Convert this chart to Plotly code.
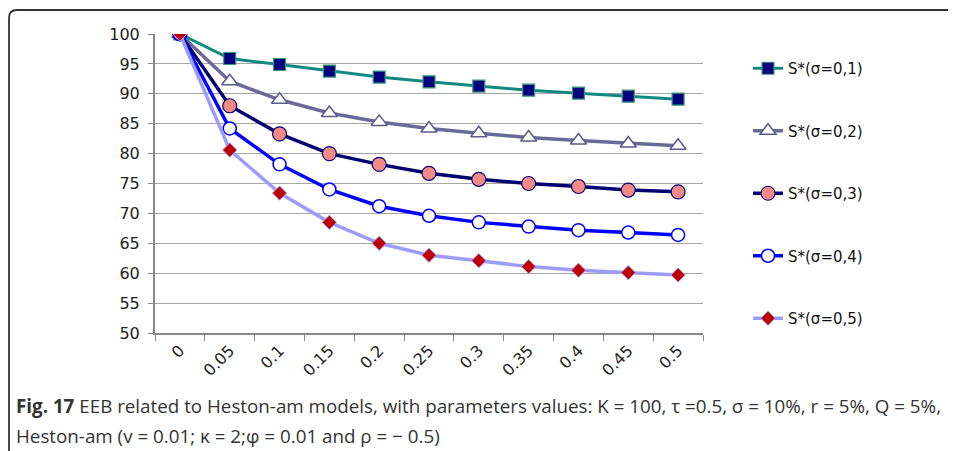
import plotly.graph_objects as go

categories = ["0", "0.05", "0.1", "0.15", "0.2", "0.25", "0.3", "0.35", "0.4", "0.45", "0.5"]
s1 = [100, 95.9, 94.9, 93.8, 92.8, 92.0, 91.3, 90.6, 90.1, 89.6, 89.1]
s2 = [100, 92.1, 89.0, 86.8, 85.3, 84.2, 83.4, 82.7, 82.2, 81.7, 81.3]
s3 = [100, 88.0, 83.3, 80.0, 78.2, 76.7, 75.7, 75.0, 74.5, 73.9, 73.6]
s4 = [100, 84.2, 78.2, 74.0, 71.2, 69.6, 68.5, 67.8, 67.2, 66.8, 66.4]
s5 = [100, 80.6, 73.4, 68.5, 65.0, 63.0, 62.1, 61.1, 60.5, 60.1, 59.7]
names = ["S*(σ=0,1)", "S*(σ=0,2)", "S*(σ=0,3)", "S*(σ=0,4)", "S*(σ=0,5)"]
y_ticks = [50, 55, 60, 65, 70, 75, 80, 85, 90, 95, 100]

OFF = 8  # page body margin
W, H = 956 - OFF, 451 - OFF
L, R, T, B = 155 - OFF, 703 - OFF, 34 - OFF, 333 - OFF

def px(x):
    return (x - OFF - L) / (R - L)

def py(y):
    return (B - (y - OFF)) / (B - T)

styles = [
    dict(line=dict(color="#108a80", width=3),
         marker=dict(symbol="square", size=12, color="#000080", line=dict(color="#3c9a78", width=1.2))),
    dict(line=dict(color="#6a6a9a", width=3.5),
         marker=dict(symbol="triangle-up", size=14, color="#ffffff", line=dict(color="#5a5a8c", width=1.5))),
    dict(line=dict(color="#000070", width=3.5),
         marker=dict(symbol="circle", size=14, color="#f38a84", line=dict(color="#000080", width=1.2))),
    dict(line=dict(color="#0000ff", width=3.5),
         marker=dict(symbol="circle", size=13, color="#ffffff", line=dict(color="#0000ff", width=1.5))),
    dict(line=dict(color="#9c9cff", width=3.5),
         marker=dict(symbol="diamond", size=11, color="#c00000", line=dict(color="#a0a0ff", width=1))),
]

fig = go.Figure()
for i, (vals, nm, st) in enumerate(zip([s1, s2, s3, s4, s5], names, styles)):
    fig.add_trace(go.Scatter(x=categories, y=vals, name=nm, mode="lines+markers",
                             line=st["line"], marker=st["marker"], legendgroup=f"g{i}"))

TF = "DejaVu Sans, sans-serif"
fig.update_layout(
    width=W, height=H,
    margin=dict(l=L, r=W - R, t=T, b=H - B),
    plot_bgcolor="white", paper_bgcolor="white",
    font=dict(family=TF, size=15, color="#222222"),
    showlegend=True,
    legend=dict(x=px(748), y=py(52), xanchor="left", yanchor="top",
                tracegroupgap=40, font=dict(size=15, color="#111111", family=TF),
                bgcolor="rgba(0,0,0,0)"),
    xaxis=dict(type="category", range=[-0.5, 10.5], tickangle=-45,
               tickson="boundaries", ticks="outside", ticklen=6, tickcolor="#888888",
               showline=True, linecolor="#888888", linewidth=2, showgrid=False,
               tickfont=dict(size=16, color="#222222", family=TF)),
    yaxis=dict(range=[50, 100], tickvals=y_ticks, ticks="outside", ticklen=5,
               tickcolor="#888888", showline=True, linecolor="#888888", linewidth=2,
               gridcolor="#a6a6a6", gridwidth=1.2, zeroline=False, ticklabelstandoff=5,
               tickfont=dict(size=16, color="#222222", family=TF)),
)

# frame around figure (rounded top-left corner)
r = 8
lx, ty = 9, 10
path = (f"M {px(lx)},{py(460)} L {px(lx)},{py(ty + r)} "
        f"Q {px(lx)},{py(ty)} {px(lx + r)},{py(ty)} L {px(970)},{py(ty)}")
fig.add_shape(type="path", path=path, xref="paper", yref="paper",
              line=dict(color="#333333", width=1.8))

CF = "Open Sans, sans-serif"
fig.add_annotation(x=px(14), y=py(406), xref="paper", yref="paper", xanchor="left", yanchor="middle",
                   showarrow=False, align="left",
                   text="<b>Fig. 17</b> EEB related to Heston-am models, with parameters values: K = 100, τ =0.5, σ = 10%, r = 5%, Q = 5%,",
                   font=dict(size=18.8, color="#333333", family=CF))
fig.add_annotation(x=px(14), y=py(436), xref="paper", yref="paper", xanchor="left", yanchor="middle",
                   showarrow=False, align="left",
                   text="Heston-am (v = 0.01; κ = 2;φ = 0.01 and ρ = − 0.5)",
                   font=dict(size=18.8, color="#333333", family=CF))

fig.write_html("out.html")
